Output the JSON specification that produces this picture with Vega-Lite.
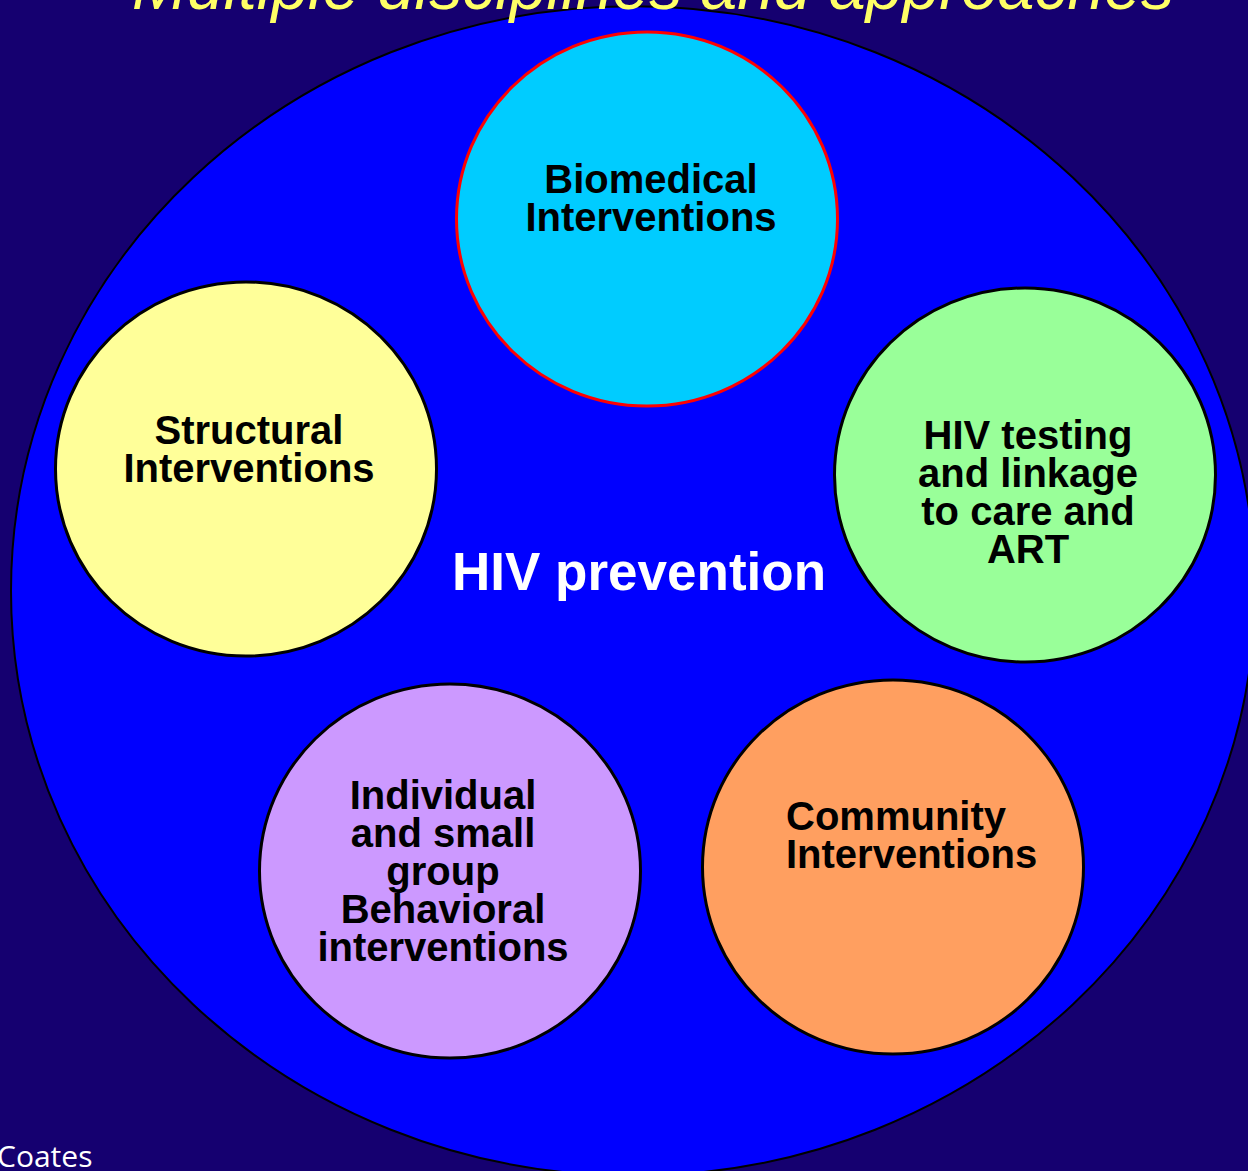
{
  "$schema": "https://vega.github.io/schema/vega-lite/v6.json",
  "width": 1248,
  "height": 1171,
  "autosize": "none",
  "padding": 0,
  "background": "#150070",
  "config": {"view": {"stroke": null}},
  "datasets": {
    "outer": [{"x": 633, "y": 591}],
    "circles": [
      {"name": "Biomedical", "x": 647, "y": 219},
      {"name": "Structural", "x": 246, "y": 469},
      {"name": "Testing", "x": 1025, "y": 475},
      {"name": "Individual", "x": 450, "y": 871},
      {"name": "Community", "x": 893, "y": 867}
    ],
    "labels": [
      {"text": "Biomedical|Interventions", "x": 651, "y": 193},
      {"text": "Structural|Interventions", "x": 249, "y": 444},
      {"text": "HIV testing|and linkage|to care and|ART", "x": 1028, "y": 449},
      {"text": "Individual|and small|group|Behavioral|interventions", "x": 443, "y": 809}
    ],
    "labelsLeft": [
      {"text": "Community|Interventions", "x": 786, "y": 830}
    ],
    "center": [{"text": "HIV prevention", "x": 639, "y": 590}],
    "title": [{"text": "Multiple disciplines and approaches", "x": 653, "y": 9}],
    "credit": [{"text": "Coates", "x": -3, "y": 1167}]
  },
  "layer": [
    {
      "data": {"name": "outer"},
      "mark": {
        "type": "point",
        "shape": "M -1 0 A 1 0.94 0 1 1 1 0 A 1 0.94 0 1 1 -1 0 Z",
        "size": 1547536,
        "filled": true,
        "fill": "#0000FF",
        "stroke": "#000000",
        "strokeWidth": 2,
        "opacity": 1
      },
      "encoding": {
        "x": {"field": "x", "type": "quantitative", "scale": {"domain": [0, 1248], "nice": false, "zero": false}, "axis": null},
        "y": {"field": "y", "type": "quantitative", "scale": {"domain": [0, 1171], "nice": false, "zero": false, "reverse": true}, "axis": null}
      }
    },
    {
      "data": {"name": "circles"},
      "mark": {
        "type": "point",
        "shape": "M -1 0 A 1 0.982 0 1 1 1 0 A 1 0.982 0 1 1 -1 0 Z",
        "size": 145161,
        "filled": true,
        "strokeWidth": 3,
        "opacity": 1
      },
      "encoding": {
        "x": {"field": "x", "type": "quantitative", "scale": {"domain": [0, 1248], "nice": false, "zero": false}, "axis": null},
        "y": {"field": "y", "type": "quantitative", "scale": {"domain": [0, 1171], "nice": false, "zero": false, "reverse": true}, "axis": null},
        "fill": {
          "field": "name",
          "type": "nominal",
          "scale": {
            "domain": ["Biomedical", "Structural", "Testing", "Individual", "Community"],
            "range": ["#00CCFF", "#FFFF99", "#99FF99", "#CC99FF", "#FF9F60"]
          },
          "legend": null
        },
        "stroke": {
          "condition": {"test": "datum.name === 'Biomedical'", "value": "#FF0000"},
          "value": "#000000"
        }
      }
    },
    {
      "data": {"name": "labels"},
      "mark": {
        "type": "text",
        "font": "Liberation Sans",
        "fontWeight": "bold",
        "fontSize": 40,
        "lineHeight": 38,
        "lineBreak": "|",
        "align": "center",
        "baseline": "alphabetic",
        "color": "#000000"
      },
      "encoding": {
        "x": {"field": "x", "type": "quantitative", "scale": {"domain": [0, 1248], "nice": false, "zero": false}, "axis": null},
        "y": {"field": "y", "type": "quantitative", "scale": {"domain": [0, 1171], "nice": false, "zero": false, "reverse": true}, "axis": null},
        "text": {"field": "text"}
      }
    },
    {
      "data": {"name": "labelsLeft"},
      "mark": {
        "type": "text",
        "font": "Liberation Sans",
        "fontWeight": "bold",
        "fontSize": 40,
        "lineHeight": 38,
        "lineBreak": "|",
        "align": "left",
        "baseline": "alphabetic",
        "color": "#000000"
      },
      "encoding": {
        "x": {"field": "x", "type": "quantitative", "scale": {"domain": [0, 1248], "nice": false, "zero": false}, "axis": null},
        "y": {"field": "y", "type": "quantitative", "scale": {"domain": [0, 1171], "nice": false, "zero": false, "reverse": true}, "axis": null},
        "text": {"field": "text"}
      }
    },
    {
      "data": {"name": "center"},
      "mark": {
        "type": "text",
        "font": "Liberation Sans",
        "fontWeight": "bold",
        "fontSize": 53,
        "align": "center",
        "baseline": "alphabetic",
        "color": "#FFFFFF"
      },
      "encoding": {
        "x": {"field": "x", "type": "quantitative", "scale": {"domain": [0, 1248], "nice": false, "zero": false}, "axis": null},
        "y": {"field": "y", "type": "quantitative", "scale": {"domain": [0, 1171], "nice": false, "zero": false, "reverse": true}, "axis": null},
        "text": {"field": "text"}
      }
    },
    {
      "data": {"name": "title"},
      "mark": {
        "type": "text",
        "font": "Liberation Sans",
        "fontStyle": "italic",
        "fontSize": 66,
        "align": "center",
        "baseline": "alphabetic",
        "color": "#FFFF66"
      },
      "encoding": {
        "x": {"field": "x", "type": "quantitative", "scale": {"domain": [0, 1248], "nice": false, "zero": false}, "axis": null},
        "y": {"field": "y", "type": "quantitative", "scale": {"domain": [0, 1171], "nice": false, "zero": false, "reverse": true}, "axis": null},
        "text": {"field": "text"}
      }
    },
    {
      "data": {"name": "credit"},
      "mark": {
        "type": "text",
        "font": "Open Sans",
        "fontSize": 30,
        "align": "left",
        "baseline": "alphabetic",
        "color": "#FFFFFF"
      },
      "encoding": {
        "x": {"field": "x", "type": "quantitative", "scale": {"domain": [0, 1248], "nice": false, "zero": false}, "axis": null},
        "y": {"field": "y", "type": "quantitative", "scale": {"domain": [0, 1171], "nice": false, "zero": false, "reverse": true}, "axis": null},
        "text": {"field": "text"}
      }
    }
  ]
}
